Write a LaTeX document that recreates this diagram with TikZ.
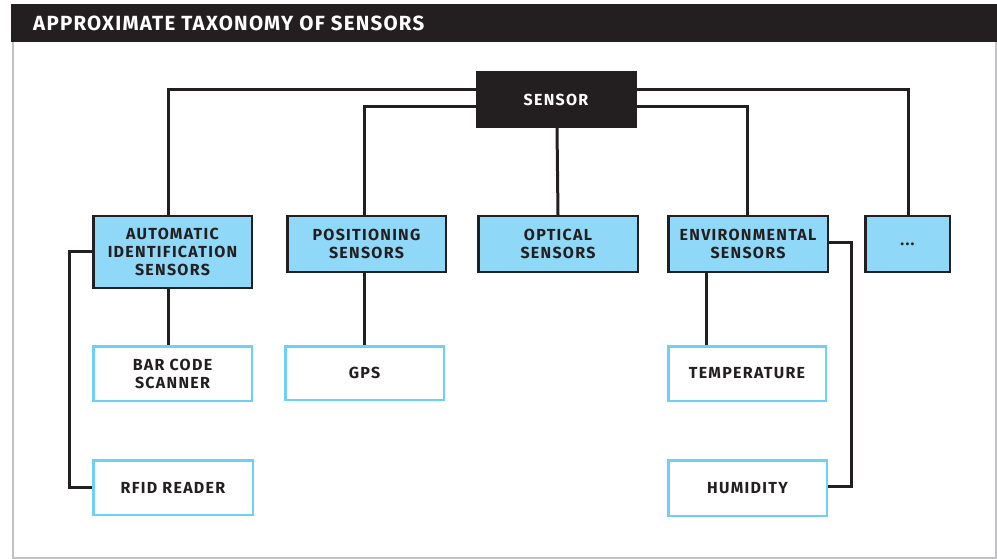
\documentclass[tikz,border=0pt]{standalone}
\usepackage{fontspec}
\setmainfont{Fira Sans}
\usetikzlibrary{calc}
\definecolor{ink}{HTML}{231F20}
\definecolor{skyfill}{HTML}{8FD8F7}
\definecolor{skyline}{HTML}{6DD0F7}
\definecolor{framegray}{HTML}{C2C2C4}
\tikzset{
  txt/.style={font=\fontsize{16}{18}\selectfont\bfseries\addfontfeatures{LetterSpace=8}, text=ink, align=center, inner sep=0pt},
  catbox/.style={txt, draw=ink, line width=2.5pt, fill=skyfill},
  leafbox/.style={txt, draw=skyline, line width=2.5pt, fill=white},
  rootbox/.style={txt, draw=ink, fill=ink, text=white, line width=0pt},
  conn/.style={draw=ink, line width=3pt}
}
\begin{document}
\begin{tikzpicture}[x=1pt,y=-1pt]
\useasboundingbox (0,0) rectangle (997,559);
% frame and header
\draw[framegray, line width=2pt] (13,42) -- (13,557.5) -- (995.5,557.5) -- (995.5,42);
\fill[ink] (11,4) rectangle (997,42);
\node[anchor=west, text=white, inner sep=0pt, font=\fontsize{20.5}{24}\selectfont\bfseries\addfontfeatures{LetterSpace=6}] (title) at (33,23) {APPROXIMATE TAXONOMY OF SENSORS};
% root
\node[rootbox, minimum width=160pt, minimum height=56pt] (sensor) at (556,100) {SENSOR};
% categories
\node[catbox, minimum width=158.5pt, minimum height=71.5pt] (ais) at (172.5,252) {AUTOMATIC\\IDENTIFICATION\\SENSORS};
\node[catbox, minimum width=158.5pt, minimum height=55.5pt] (pos) at (366.5,244) {POSITIONING\\SENSORS};
\node[catbox, minimum width=159.5pt, minimum height=55.5pt] (opt) at (558,244) {OPTICAL\\SENSORS};
\node[catbox, minimum width=159.5pt, minimum height=55.5pt] (env) at (748,244) {ENVIRONMENTAL\\SENSORS};
\node[catbox, minimum width=84.5pt, minimum height=55.5pt] (more) at (907.5,244) {...};
% leaves
\node[leafbox, minimum width=158.5pt, minimum height=54.5pt] (bar) at (172.5,373.5) {BAR CODE\\SCANNER};
\node[leafbox, minimum width=159.5pt, minimum height=54.5pt] (rfid) at (173,487.5) {RFID READER};
\node[leafbox, minimum width=158.5pt, minimum height=53.5pt] (gps) at (364.5,373) {GPS};
\node[leafbox, minimum width=157.5pt, minimum height=54.5pt] (temp) at (747,373.5) {TEMPERATURE};
\node[leafbox, minimum width=158.5pt, minimum height=55.5pt] (hum) at (747.5,488) {HUMIDITY};
% connectors
\draw[conn] ([yshift=10pt]sensor.west) -| ([xshift=-4.5pt]ais.north);
\draw[conn] ([yshift=-7pt]sensor.west) -| ([xshift=-2.5pt]pos.north);
\draw[conn] ([xshift=1pt]sensor.south) -- ([xshift=0pt]opt.north);
\draw[conn] ([yshift=-7pt]sensor.east) -| ([xshift=-1pt]env.north);
\draw[conn] ([yshift=10pt]sensor.east) -| ([xshift=0.5pt]more.north);
\draw[conn] ([xshift=-4.5pt]ais.south) -- ([xshift=-4.5pt]bar.north);
\coordinate (aisbend) at (69,251);
\draw[conn] ([yshift=1pt]ais.west) -- (aisbend) |- (rfid.west);
\draw[conn] ([xshift=-2.5pt]pos.south) -- ([xshift=-0.5pt]gps.north);
\draw[conn] ([xshift=-42pt]env.south) -- ([xshift=-41pt]temp.north);
\coordinate (envbend) at (851,243);
\draw[conn] (env.east |- envbend) -- (envbend) |- ([yshift=2pt]hum.east);
\end{tikzpicture}
\end{document}
